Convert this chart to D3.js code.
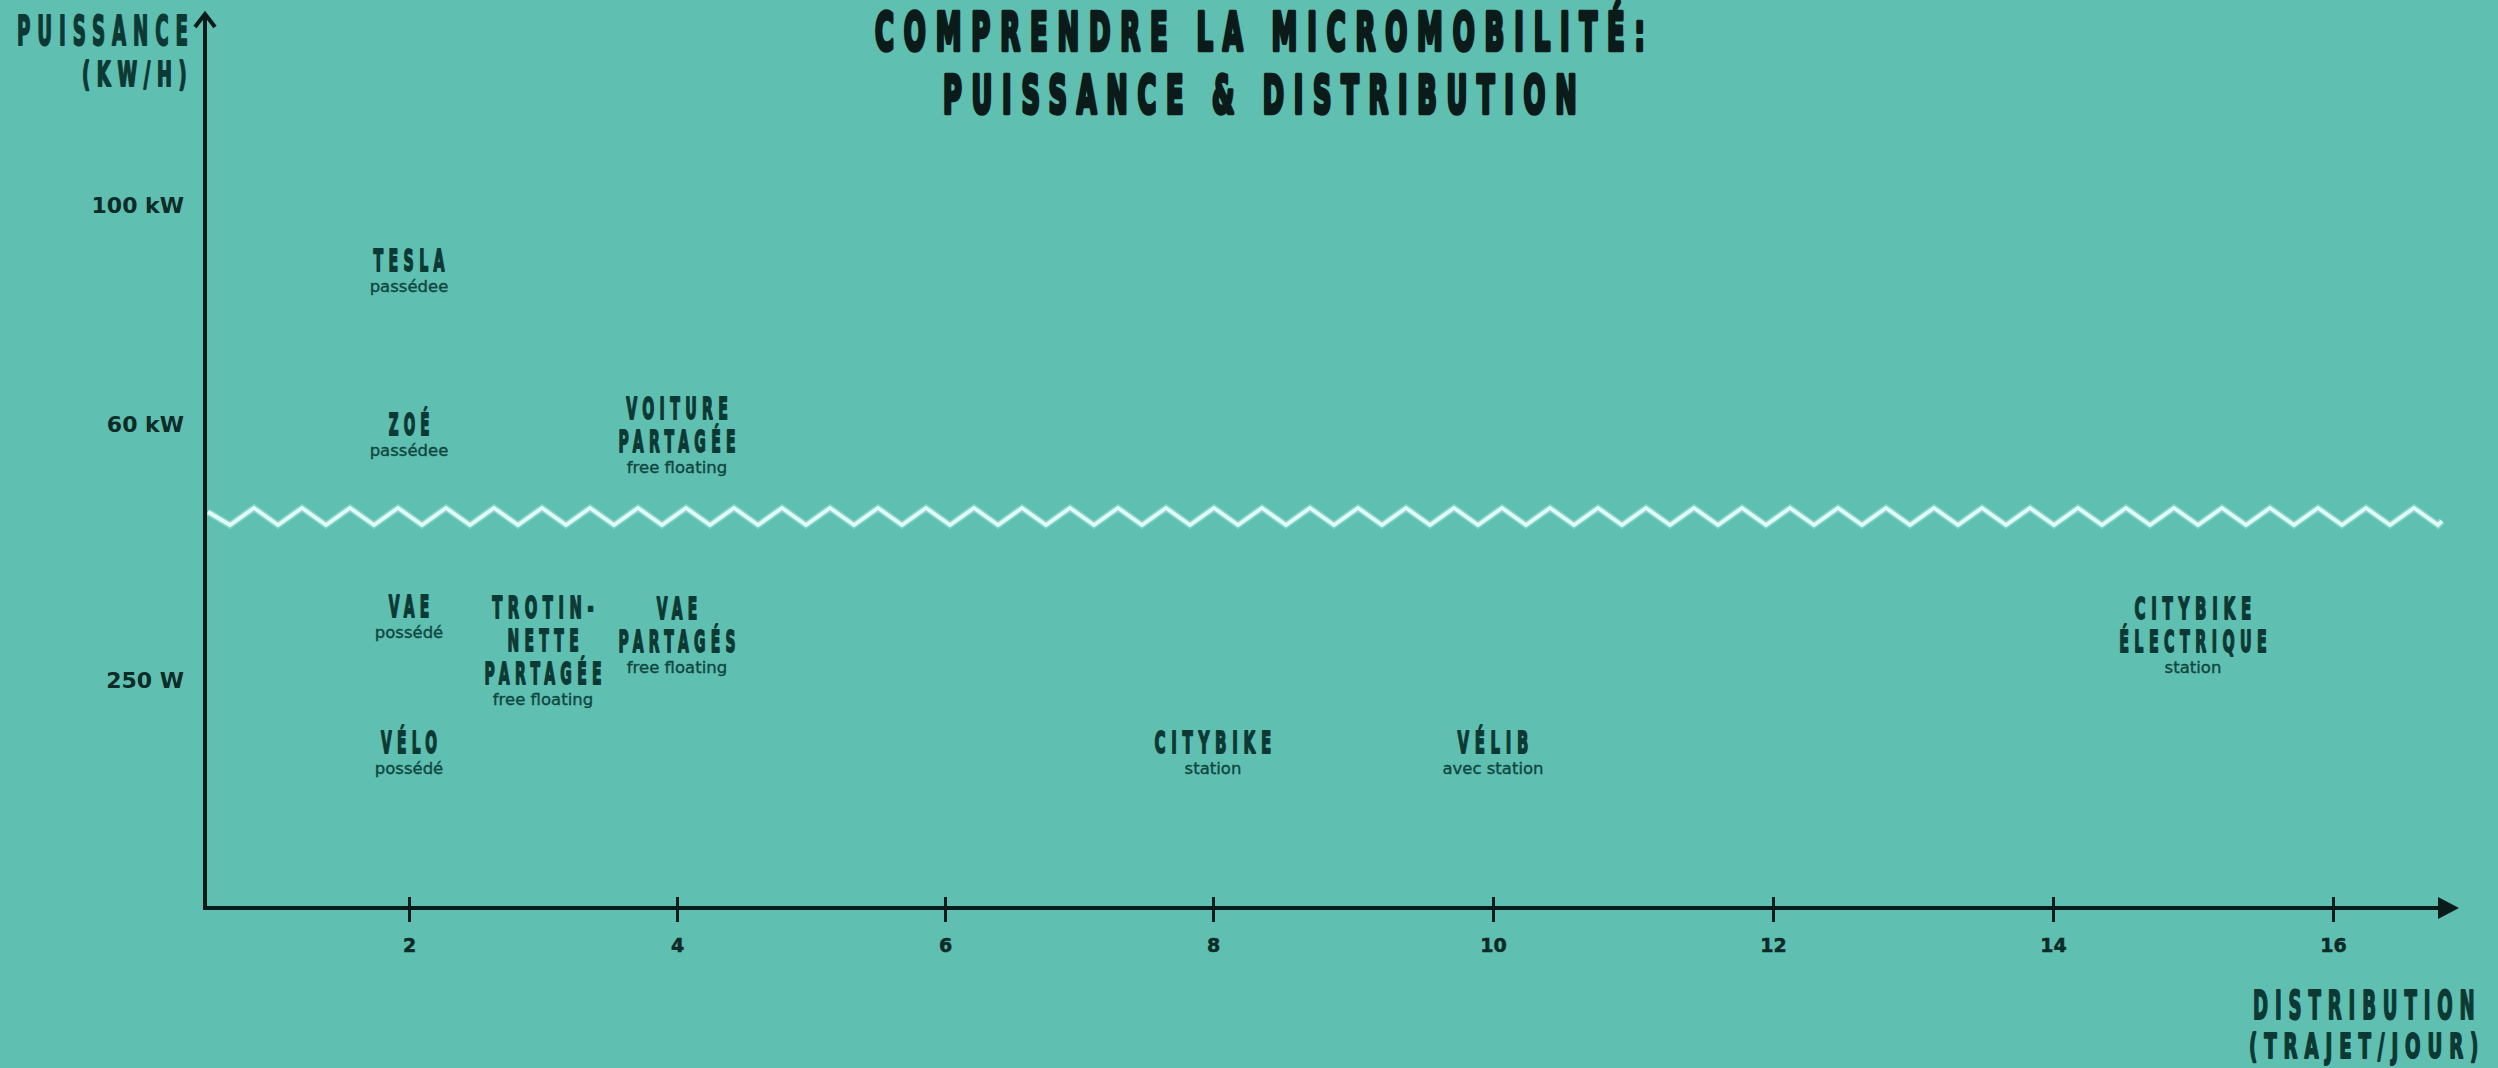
<!DOCTYPE html>
<html>
<head>
<meta charset="utf-8">
<script src="https://cdn.jsdelivr.net/npm/d3@7"></script>
<style>
  html, body { margin: 0; padding: 0; background: #5fbfb1; overflow: hidden; }
  svg { display: block; }
</style>
</head>
<body>
<script>
// ---------- DATA ----------
const titleLines = ["COMPRENDRE LA MICROMOBILITÉ:", "PUISSANCE & DISTRIBUTION"];
const yAxisTitle = ["PUISSANCE", "(KW/H)"];
const xAxisTitle = ["DISTRIBUTION", "(TRAJET/JOUR)"];

const xTickValues = [2, 4, 6, 8, 10, 12, 14, 16];
const yTicksKW = [100, 60];
const yTickLabelsKW = ["100 kW", "60 kW"];
const yTicksW = [250];
const yTickLabelsW = ["250 W"];

const modeNames = [
  ["TESLA"], ["ZOÉ"], ["VOITURE", "PARTAGÉE"], ["VAE"],
  ["TROTIN-", "NETTE", "PARTAGÉE"], ["VAE", "PARTAGÉS"], ["VÉLO"],
  ["CITYBIKE"], ["VÉLIB"], ["CITYBIKE", "ÉLECTRIQUE"]
];
const modeSubtitles = ["passédee", "passédee", "free floating", "possédé", "free floating",
  "free floating", "possédé", "station", "avec station", "station"];
const distribution = [2, 2, 4, 2, 3, 4, 2, 8, 10, 15];       // trajets / jour
const powerUnit = ["kW", "kW", "kW", "W", "W", "W", "W", "W", "W", "W"];
const powerValue = [88, 58, 58, 320, 282, 300, 170, 170, 170, 300];

// ---------- SETUP ----------
const W = 2498, H = 1068;
const BG = "#5fbfb1", DARK = "#0b1b1a", LABEL = "#0d3934", SUB = "#0f4640", AXIS = "#0a1c1a";
const COND = "'DejaVu Sans', sans-serif";

const svg = d3.select("body").append("svg").attr("width", W).attr("height", H);
svg.append("rect").attr("width", W).attr("height", H).attr("fill", BG);

const x = d3.scaleLinear().domain([2, 8, 16]).range([409, 1213, 2333]);
const yKW = d3.scaleLinear().domain([60, 100]).range([424, 205]);
const yW = d3.scaleLinear().domain([0, 250]).range([907, 680]);
const yOf = i => powerUnit[i] === "kW" ? yKW(powerValue[i]) : yW(powerValue[i]);

const axisX0 = 205, axisY0 = 908;

// condensed, letter-spaced caps: natural text measured, then squeezed horizontally
function cond(g, text, cx, baseline, adv, capH, fill, sw, anchor) {
  const n = [...text].length;
  const fs = capH / 0.729;
  const ink = n * adv - 0.35 * adv;
  let left = cx - ink / 2;
  if (anchor === "end") left = cx - ink;
  if (anchor === "start") left = cx;
  const t = g.append("text")
    .attr("x", 0).attr("y", 0)
    .attr("font-family", COND).attr("font-weight", "bold")
    .attr("font-size", fs).attr("letter-spacing", (0.38 * fs) + "px")
    .attr("fill", fill).attr("stroke", fill).attr("stroke-width", sw)
    .attr("stroke-linejoin", "round")
    .text(text);
  const natural = t.node().getComputedTextLength();
  const s = (n * adv) / natural;
  t.attr("transform", `translate(${left},${baseline}) scale(${s},1)`);
  return t;
}

// ---------- TITLE ----------
const gT = svg.append("g");
cond(gT, titleLines[0], 1260, 50, 770 / (titleLines[0].length - 0.35), 38, DARK, 4.5);
cond(gT, titleLines[1], 1260, 113, 634 / (titleLines[1].length - 0.35), 38, DARK, 4.5);

// ---------- AXIS TITLES ----------
cond(svg, yAxisTitle[0], 188, 45, 171 / (9 - 0.35), 30, LABEL, 2, "end");
cond(svg, yAxisTitle[1], 187, 86, 105 / (6 - 0.35), 24, LABEL, 2, "end");
cond(svg, xAxisTitle[0], 2253, 1019, 222 / (12 - 0.35), 28, LABEL, 2, "start");
cond(svg, xAxisTitle[1], 2249, 1058, 230 / (13 - 0.35), 25, LABEL, 2, "start");

// ---------- ZIGZAG (axis break) ----------
const zz = [[208, 512]];
d3.range(0, 93).forEach(k => zz.push([230 + 24 * k, k % 2 === 0 ? 525 : 508]));
zz.push([2442, 521]);
svg.append("path").attr("d", d3.line()(zz))
  .attr("fill", "none").attr("stroke", "#a8ece2").attr("stroke-width", 7).attr("opacity", 0.5)
  .attr("stroke-linejoin", "miter");
svg.append("path").attr("d", d3.line()(zz))
  .attr("fill", "none").attr("stroke", "#e2fdf8").attr("stroke-width", 3.8)
  .attr("stroke-linejoin", "miter");

// ---------- AXES ----------
const gx = svg.append("g").attr("transform", `translate(0,${axisY0})`)
  .call(d3.axisBottom(x).tickValues(xTickValues).tickFormat(d3.format("d")).tickSize(14).tickPadding(0));
gx.select(".domain").remove();
gx.selectAll(".tick line").attr("y1", -11).attr("y2", 14).attr("stroke", AXIS).attr("stroke-width", 3);
gx.selectAll(".tick text").attr("y", 44).attr("dy", 0)
  .attr("font-family", COND).attr("font-weight", "bold").attr("font-size", 19)
  .attr("fill", "#0d2b27").attr("stroke", "#0d2b27").attr("stroke-width", 0.5);

svg.append("line").attr("x1", axisX0 - 2).attr("x2", 2443).attr("y1", axisY0).attr("y2", axisY0)
  .attr("stroke", AXIS).attr("stroke-width", 4);
svg.append("path").attr("d", `M2438,${axisY0 - 11} L2459,${axisY0} L2438,${axisY0 + 11} Z`).attr("fill", AXIS);

svg.append("line").attr("x1", axisX0).attr("x2", axisX0).attr("y1", axisY0 + 2).attr("y2", 15)
  .attr("stroke", AXIS).attr("stroke-width", 4);
svg.append("path").attr("d", `M${axisX0 - 10},27 L${axisX0},14 L${axisX0 + 10},27`)
  .attr("fill", "none").attr("stroke", AXIS).attr("stroke-width", 4).attr("stroke-linejoin", "miter");

const yLab = svg.append("g").attr("font-family", COND).attr("font-weight", "bold")
  .attr("font-size", 22).attr("fill", "#0d2b27").attr("text-anchor", "end");
yTicksKW.forEach((v, i) => yLab.append("text").attr("x", 184).attr("y", yKW(v) + 8).text(yTickLabelsKW[i]));
yTicksW.forEach((v, i) => yLab.append("text").attr("x", 184).attr("y", yW(v) + 8).text(yTickLabelsW[i]));

// ---------- LABELS ----------
const gL = svg.append("g");
modeNames.forEach((lines, i) => {
  const cx = x(distribution[i]);
  const c = yOf(i);
  const n = lines.length;
  const b1 = c - (33 * (n - 1) - 1) / 2;
  lines.forEach((t, j) => cond(gL, t, cx, b1 + 33 * j, 15.3, 22, LABEL, 1.8));
  gL.append("text").attr("x", cx).attr("y", b1 + 33 * (n - 1) + 21)
    .attr("text-anchor", "middle").attr("font-family", COND)
    .attr("font-size", 16.5).attr("fill", SUB).attr("stroke", SUB).attr("stroke-width", 0.35)
    .text(modeSubtitles[i]);
});
</script>
</body>
</html>
